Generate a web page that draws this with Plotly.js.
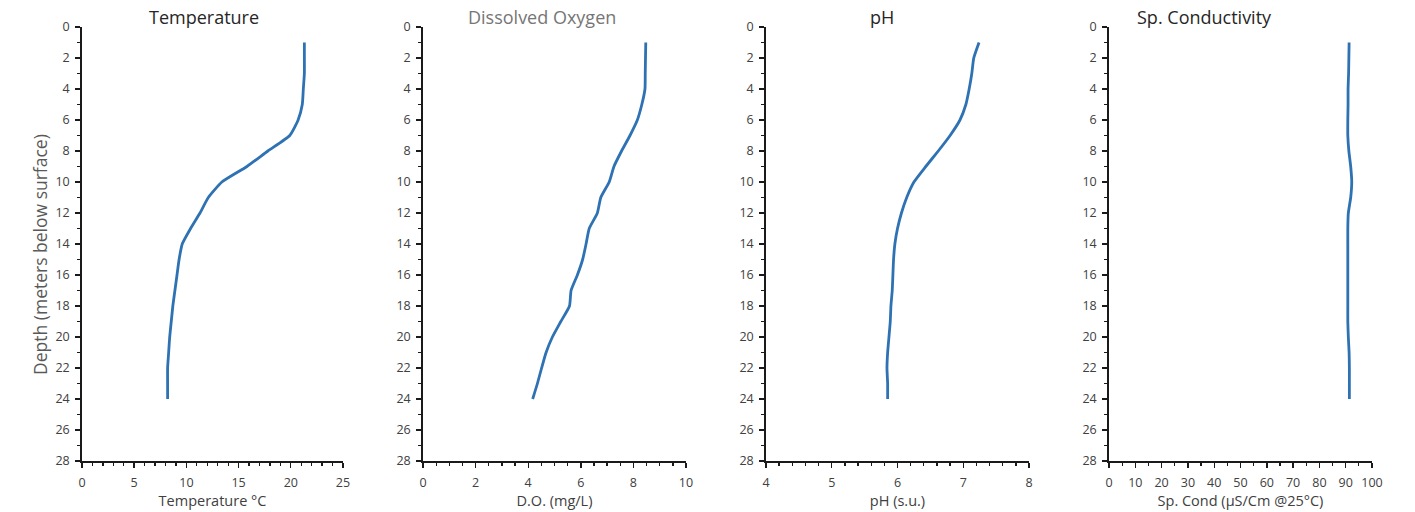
<!DOCTYPE html>
<html>
<head>
<meta charset="utf-8">
<script src="https://cdn.plot.ly/plotly-3.0.1.min.js"></script>
<style>html,body{margin:0;padding:0;background:#fff;}#chart{width:1415px;height:512px;}</style>
</head>
<body>
<div id="chart"></div>
<script>
// Depth (meters below surface)
const depth = [1,2,3,4,5,6,7,8,9,10,11,12,13,14,15,16,17,18,19,20,21,22,23,24];
// Temperature °C
const temperature = [21.3,21.3,21.3,21.2,21.1,20.7,19.9,17.8,15.8,13.4,12.1,11.3,10.4,9.6,9.3,9.1,8.9,8.7,8.55,8.4,8.3,8.2,8.2,8.2];
// Dissolved oxygen (mg/L)
const dissolvedOxygen = [8.47,8.46,8.45,8.44,8.32,8.15,7.87,7.55,7.26,7.08,6.76,6.63,6.32,6.2,6.07,5.87,5.63,5.57,5.24,4.92,4.68,4.51,4.35,4.17];
// pH (s.u.)
const pH = [7.24,7.16,7.13,7.09,7.04,6.95,6.8,6.62,6.43,6.25,6.14,6.06,6.0,5.96,5.94,5.93,5.92,5.9,5.89,5.87,5.85,5.84,5.85,5.85];
// Specific conductivity (µS/cm @25°C)
const spCond = [91.3,91.2,91.1,90.9,90.9,90.8,90.8,91.2,91.9,92.3,91.9,91.0,90.8,90.8,90.8,90.8,90.8,90.8,90.8,91.0,91.3,91.4,91.4,91.4];

const panelTitles = ["Temperature", "Dissolved Oxygen", "pH", "Sp. Conductivity"];
const xTitles = ["Temperature °C", "D.O. (mg/L)", "pH (s.u.)", "Sp. Cond (µS/Cm @25°C)"];
const yTitle = "Depth (meters below surface)";

const FONT = "Open Sans, Lato, sans-serif";
const LINE = "#2e72b3";
const series = [temperature, dissolvedOxygen, pH, spCond];
const xRanges = [[0,25],[0,10],[4,8],[0,100]];
const xDtick = [5,2,1,10];
const xMinor = [1,0.5,0.2,5];
const domains = [[0.05795,0.2424],[0.29894,0.48481],[0.54134,0.72721],[0.78375,0.96961]];
const titleX = [0.1442, 0.3827, 0.6233, 0.8509];
const titleColors = ["#262626", "#767676", "#262626", "#262626"];

const traces = series.map((vals, i) => ({
  type: "scatter", mode: "lines",
  x: vals, y: depth,
  xaxis: i === 0 ? "x" : "x" + (i + 1),
  yaxis: i === 0 ? "y" : "y" + (i + 1),
  line: {color: LINE, width: 2.8, shape: "spline", smoothing: 0.5},
  hoverinfo: "x+y", showlegend: false
}));

const annotations = panelTitles.map((t, i) => ({
  text: t, xref: "paper", yref: "paper", x: titleX[i], y: 1.023,
  xanchor: "center", yanchor: "middle", showarrow: false,
  font: {family: FONT, size: 18, color: titleColors[i]}
}));
annotations.push({
  text: yTitle, xref: "paper", yref: "paper", x: 40 / 1415, y: 0.4747,
  xanchor: "center", yanchor: "middle", textangle: -90, showarrow: false,
  font: {family: FONT, size: 17.5, color: "#595959"}
});

const layout = {
  width: 1415, height: 512,
  margin: {l: 0, r: 0, t: 27, b: 51},
  paper_bgcolor: "#ffffff", plot_bgcolor: "#ffffff",
  font: {family: FONT, color: "#404040", size: 12},
  showlegend: false,
  annotations: annotations
};

for (let i = 0; i < 4; i++) {
  const sx = i === 0 ? "" : String(i + 1);
  layout["xaxis" + sx] = {
    domain: domains[i], range: xRanges[i], anchor: "y" + sx,
    dtick: xDtick[i], tick0: xRanges[i][0],
    showgrid: false, zeroline: false,
    showline: true, linecolor: "#1a1a1a", linewidth: 1.8,
    ticks: "outside", ticklen: 5, tickwidth: 1.4, tickcolor: "#1a1a1a",
    minor: {dtick: xMinor[i], tick0: xRanges[i][0], ticks: "outside", ticklen: 3, tickwidth: 1.3, tickcolor: "#1a1a1a", showgrid: false},
    ticklabelstandoff: 4,
    tickfont: {family: FONT, size: 12.5, color: "#404040"},
    title: {text: xTitles[i], standoff: 4, font: {family: FONT, size: 14.5, color: "#404040"}},
    fixedrange: true
  };
  layout["yaxis" + sx] = {
    domain: [0, 1], range: [28, 0], anchor: "x" + sx,
    dtick: 2, tick0: 0,
    showgrid: false, zeroline: false,
    showline: true, linecolor: "#1a1a1a", linewidth: 1.8,
    ticks: "outside", ticklen: 5, tickwidth: 1.4, tickcolor: "#1a1a1a",
    minor: {dtick: 1, tick0: 0, ticks: "outside", ticklen: 3, tickwidth: 1.3, tickcolor: "#1a1a1a", showgrid: false},
    ticklabelstandoff: 3,
    tickfont: {family: FONT, size: 12.5, color: "#404040"},
    title: {text: ""},
    fixedrange: true
  };
}

Plotly.newPlot("chart", traces, layout, {displayModeBar: false, staticPlot: true});
</script>
</body>
</html>
